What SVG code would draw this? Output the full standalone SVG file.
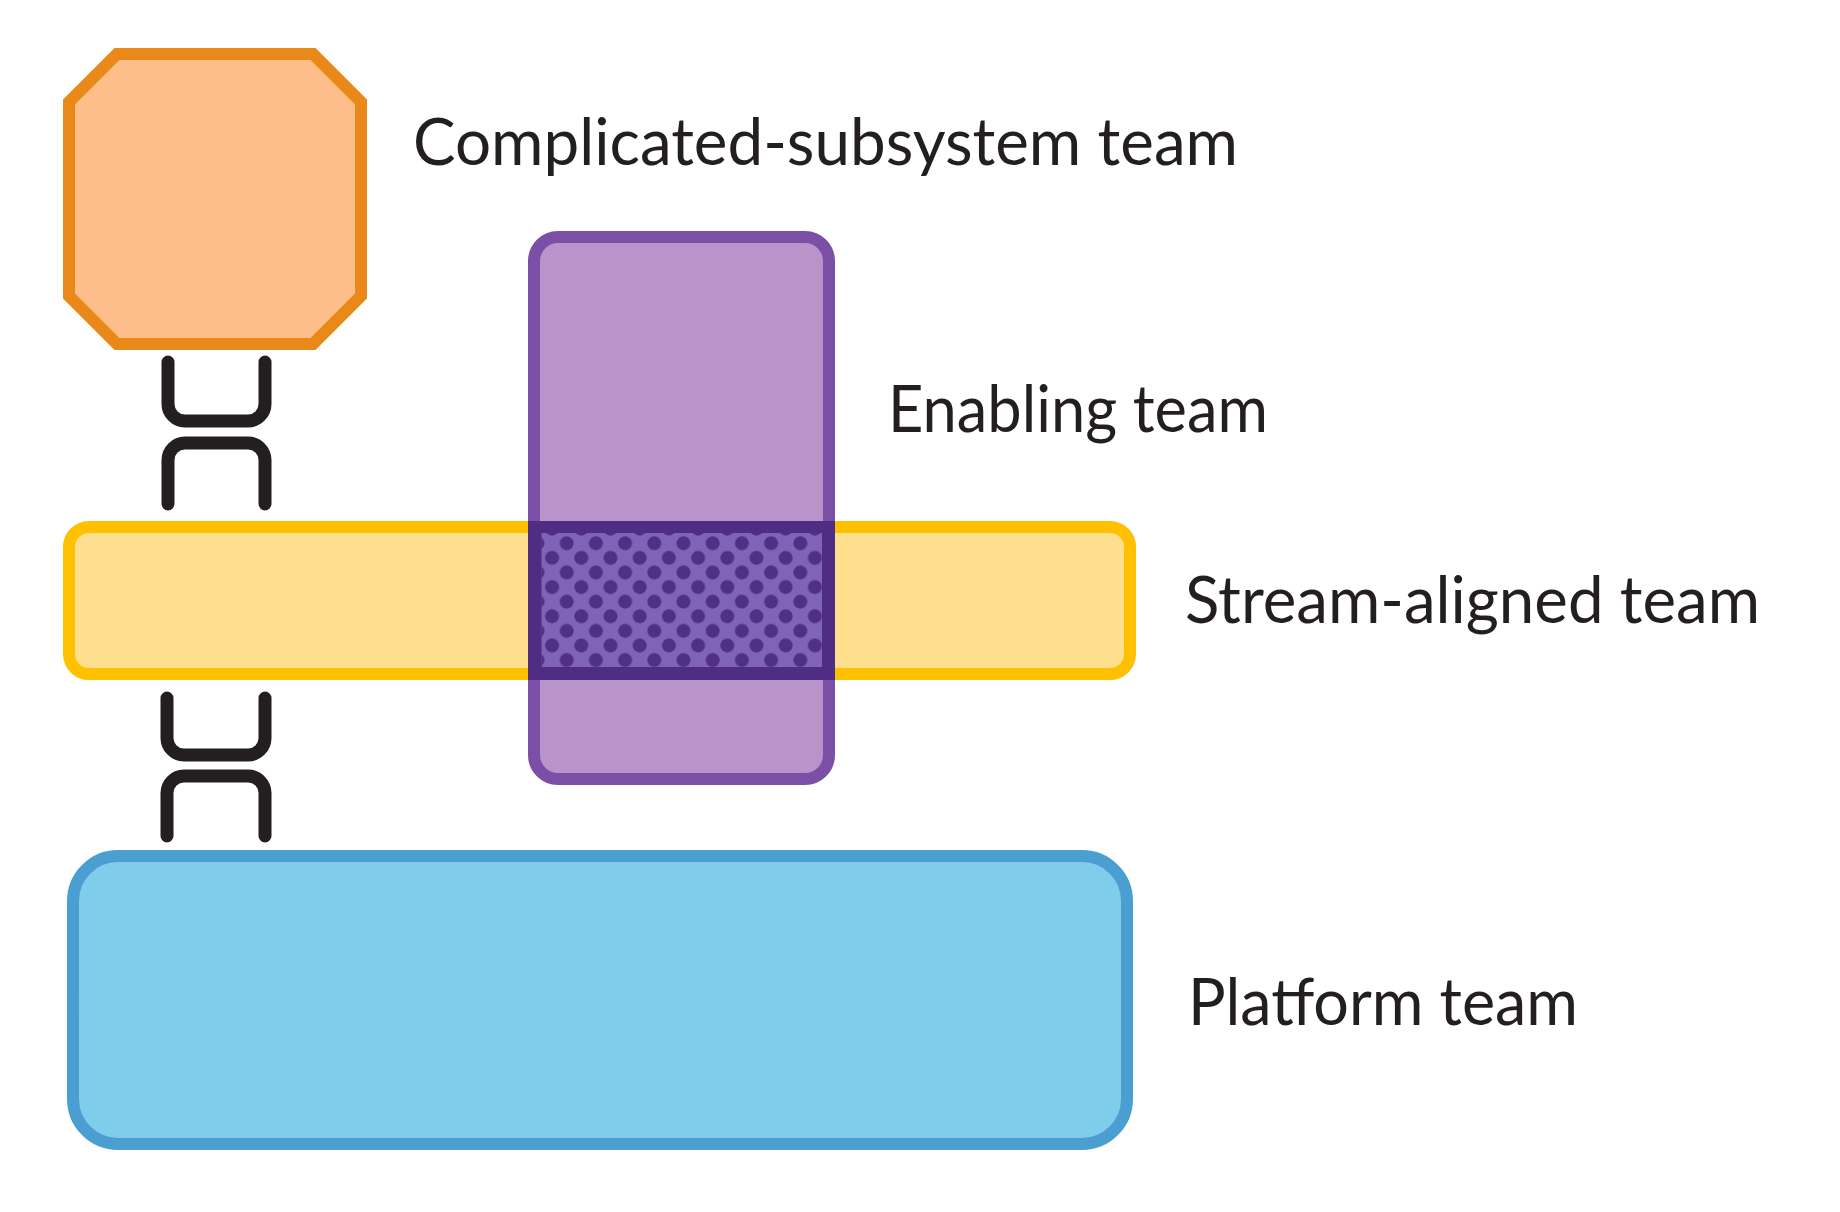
<svg xmlns="http://www.w3.org/2000/svg" width="1840" height="1212" viewBox="0 0 1840 1212">
  <defs>
    <style>
      .label { font-family: Lato, "Noto Sans", "Liberation Sans", sans-serif; font-size: 66px; font-weight: 400; fill: #231F20; }
      .link { fill: none; stroke: #231F20; stroke-width: 13; stroke-linecap: round; stroke-linejoin: round; }
    </style>
    <pattern id="dots" patternUnits="userSpaceOnUse" x="559.4" y="536" width="29.2" height="29.2">
      <circle cx="7.3" cy="7.3" r="7" fill="#502F86"/>
      <circle cx="21.9" cy="21.9" r="7" fill="#502F86"/>
    </pattern>
  </defs>
  <rect width="1840" height="1212" fill="#FFFFFF"/>

  <g id="platform-team">
    <rect x="73" y="856" width="1054" height="288" rx="45" fill="#7FCDEA" stroke="#4A9FD0" stroke-width="12"/>
    <text class="label" x="1188" y="1025" textLength="390" lengthAdjust="spacingAndGlyphs">Platform team</text>
  </g>

  <g id="stream-aligned-team">
    <rect x="69" y="527" width="1061" height="147" rx="20" fill="#FDDF8E" stroke="#FFC000" stroke-width="12"/>
    <text class="label" x="1185" y="623" textLength="575" lengthAdjust="spacingAndGlyphs">Stream-aligned team</text>
  </g>

  <g id="enabling-team">
    <rect x="534" y="237" width="295" height="542" rx="24" fill="#B994CB" stroke="#7B4FA6" stroke-width="12"/>
    <text class="label" x="888" y="432" textLength="380" lengthAdjust="spacingAndGlyphs">Enabling team</text>
  </g>

  <g id="overlap">
    <rect x="528" y="521" width="307" height="159" fill="#4F2D85"/>
    <rect x="541.5" y="533" width="280.5" height="134" fill="#7F63B7"/>
    <rect x="541.5" y="533" width="280.5" height="134" fill="url(#dots)"/>
  </g>

  <g id="complicated-subsystem-team">
    <polygon points="117,54 313,54 361,102 361,296 313,344 117,344 69,296 69,102" fill="#FDBE8A" stroke="#E8891A" stroke-width="12"/>
    <text class="label" x="413" y="165" textLength="825" lengthAdjust="spacingAndGlyphs">Complicated-subsystem team</text>
  </g>

  <g id="connectors">
    <path class="link" d="M168,362 V404 A17,17 0 0 0 185,421 H248 A17,17 0 0 0 265,404 V362"/>
    <path class="link" d="M168,504 V460 A17,17 0 0 1 185,443 H248 A17,17 0 0 1 265,460 V504"/>
    <path class="link" d="M167,698 V738 A17,17 0 0 0 184,755 H248 A17,17 0 0 0 265,738 V698"/>
    <path class="link" d="M167,836 V793 A17,17 0 0 1 184,776 H248 A17,17 0 0 1 265,793 V836"/>
  </g>
</svg>
